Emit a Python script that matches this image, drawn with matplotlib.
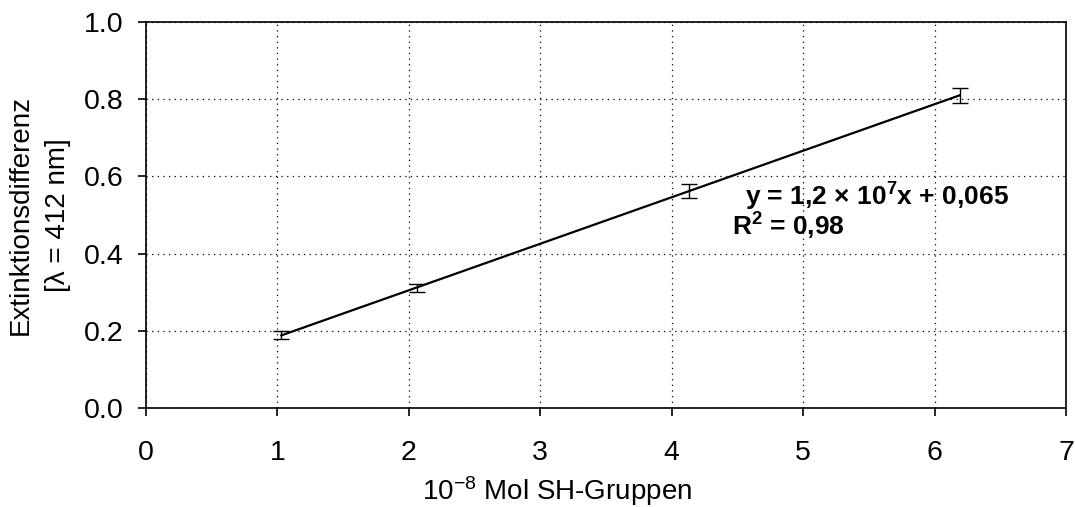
import numpy as np
import matplotlib
matplotlib.use("Agg")
import matplotlib.pyplot as plt

plt.rcParams['font.family'] = ['Liberation Sans', 'DejaVu Sans']
plt.rcParams['mathtext.fontset'] = 'custom'
plt.rcParams['mathtext.rm'] = 'Liberation Sans'
plt.rcParams['mathtext.it'] = 'Liberation Sans'
plt.rcParams['mathtext.bf'] = 'Liberation Sans:bold'

# Messwerte (10^-8 Mol SH-Gruppen gegen Extinktionsdifferenz)
mol_sh = [1.03, 2.06, 4.13, 6.19]
extinktion = [0.189, 0.311, 0.562, 0.810]
fehler = [0.010, 0.010, 0.018, 0.020]

x_ticks = [0, 1, 2, 3, 4, 5, 6, 7]
y_ticks = [0.0, 0.2, 0.4, 0.6, 0.8, 1.0]

fig = plt.figure(figsize=(10.75, 5.07), dpi=100)
ax = fig.add_axes([146/1075, 1-408/507, (1066-146)/1075, (408-22)/507])

# lineare Regression (Trendlinie)
m, b = np.polyfit(mol_sh, extinktion, 1)
xs = np.array([min(mol_sh), max(mol_sh)])
ax.plot(xs, m*xs + b, color='black', lw=1.6, zorder=3)

ax.errorbar(mol_sh, extinktion, yerr=fehler, fmt='none', ecolor='black',
            elinewidth=1.0, capsize=6, capthick=1.0, zorder=4)

ax.set_xlim(0, 7)
ax.set_ylim(0, 1.0)
ax.set_xticks(x_ticks)
ax.set_yticks(y_ticks)
ax.set_yticklabels(['%.1f' % v for v in y_ticks])
ax.tick_params(direction='out', length=6, width=1.2, labelsize=20.5, colors='black')
ax.tick_params(axis='x', pad=17)
ax.tick_params(axis='y', pad=10)
for s in ax.spines.values():
    s.set_linewidth(1.2)

ax.grid(True, color='black', linestyle=(0, (1, 3.5)), linewidth=0.9)
ax.set_axisbelow(True)

ax.set_xlabel('10$^{\\mathrm{-8}}$ Mol SH-Gruppen', fontsize=20)
ax.xaxis.set_label_coords(0.447, -0.171)
ax.set_ylabel('Extinktionsdifferenz\n[λ = 412 nm]', fontsize=20, linespacing=1.55)
ax.yaxis.set_label_coords(-0.082, 0.5)

ax.text(4.56, 0.547, 'y = 1,2 × 10$^{\\mathbf{7}}$x + 0,065', fontweight='bold',
        fontsize=19, va='center', ha='left')
ax.text(4.46, 0.47, 'R$^{\\mathbf{2}}$ = 0,98', fontweight='bold',
        fontsize=19, va='center', ha='left')

fig.savefig('out.png', dpi=100)
